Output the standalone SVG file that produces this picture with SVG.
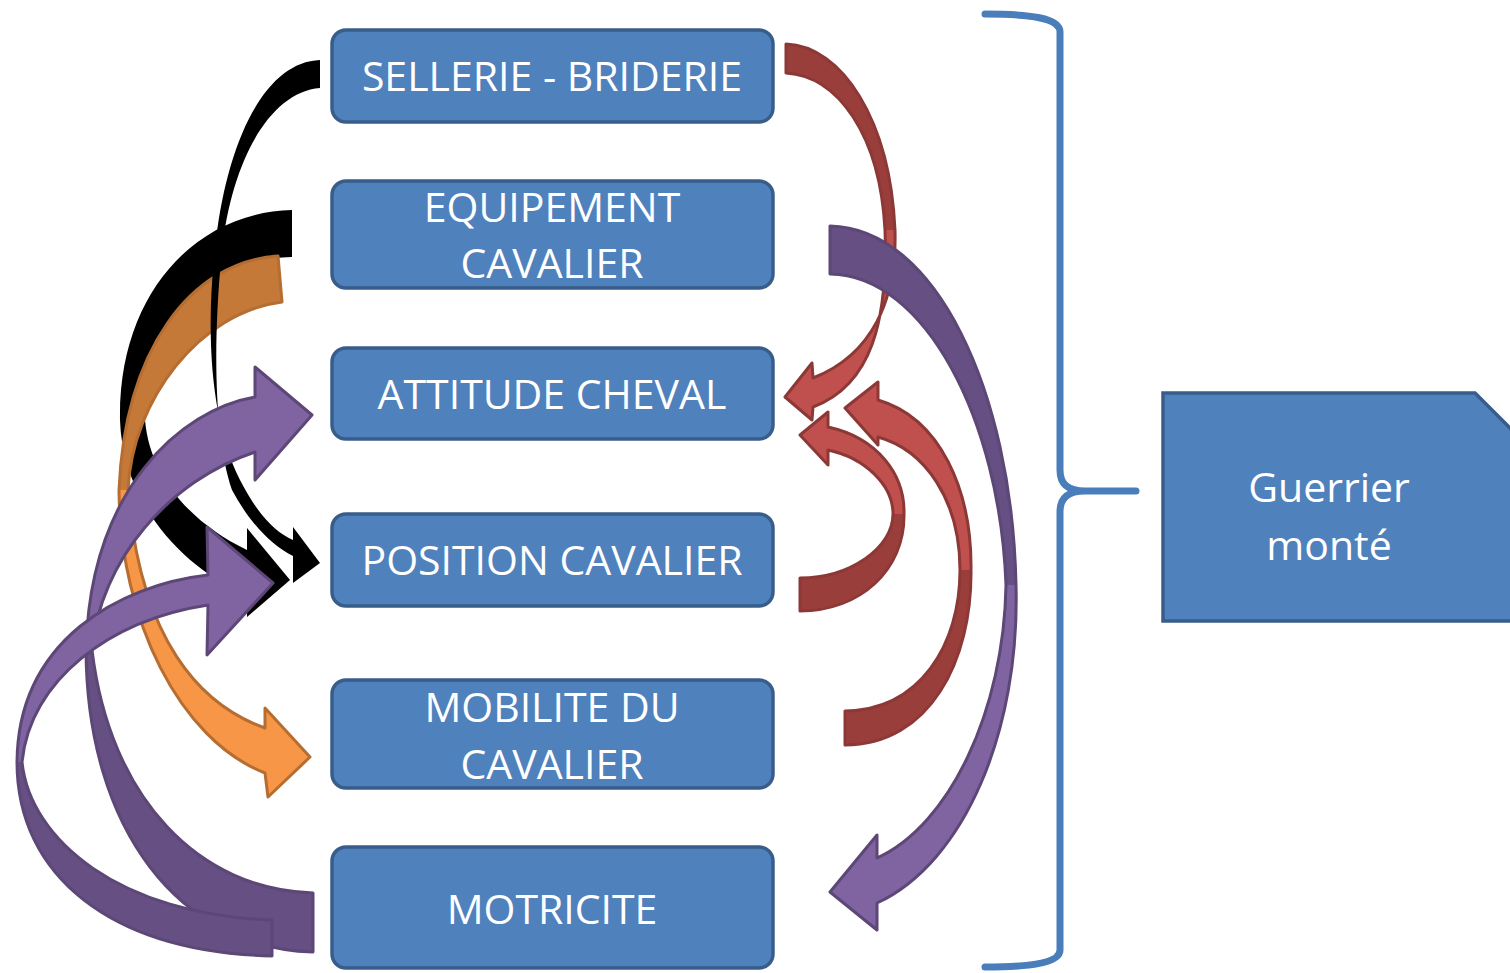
<svg xmlns="http://www.w3.org/2000/svg" xmlns:xlink="http://www.w3.org/1999/xlink" width="1510" height="973" viewBox="0 0 1510 973">
<style>
.node{fill:#4F81BD;stroke:#385D8A;stroke-width:3.5}
.lbl{font-family:"Open Sans","Liberation Sans",sans-serif;font-size:41px;fill:#FFFFFF;text-anchor:middle}
.bk{fill:#000000}
.ol{fill:#F79646}
.od{fill:#C47938}
.os{fill:none;stroke:#B66D31;stroke-width:3;stroke-linejoin:round}
.pl{fill:#8064A2}
.pd{fill:#664F82}
.ps{fill:none;stroke:#5C4776;stroke-width:3;stroke-linejoin:round}
.rl{fill:#C0504D}
.rd{fill:#9A3E3C}
.rs{fill:none;stroke:#8C3836;stroke-width:3;stroke-linejoin:round}
.brace{fill:none;stroke:#4A7EBB;stroke-width:7;stroke-linecap:round;stroke-linejoin:round}
</style>
<defs>
<path id="a-orange" d="M278,256 C190,262 125,350 119,490 C120,620 180,740 265,773 L268,797 L310,757 L265,708 L265,728 C200,705 140,640 128,490 C132,400 200,312 282,302 Z"/>
<path id="a-p4" d="M313,893 C200,890 110,800 92,650 C100,560 170,480 255,452 L255,480 L312,415 L255,367 L255,397 C180,410 90,490 86,650 C87,830 180,948 313,952 Z"/>
<path id="a-p5" d="M272,920 C120,915 30,840 22,762 C30,680 110,620 208,605 L207,655 L273,583 L207,527 L208,575 C120,585 18,640 17,762 C17,875 110,952 272,956 Z"/>
<path id="a-r6" d="M786,44 C842,46 890,120 895,230 C897,300 872,355 813,378 L812,363 L785,397 L812,420 L813,407 C872,385 888,320 885,230 C880,135 838,76 786,73 Z"/>
<path id="a-p7" d="M830,226 C935,228 1012,390 1016,585 C1020,730 965,862 877,903 L877,930 L830,892 L877,835 L877,858 C950,825 1004,710 1006,585 C1000,420 925,275 830,274 Z"/>
<path id="a-r8" d="M800,578 C850,578 893,548 893,514 C893,485 865,458 828,450 L828,465 L800,435 L828,412 L828,427 C878,438 905,475 904,514 C905,570 860,611 800,611 Z"/>
<path id="a-r9" d="M845,711 C920,710 960,645 960,570 C960,500 925,450 878,437 L878,445 L845,408 L878,382 L878,400 C940,418 972,490 971,570 C972,660 930,745 845,745 Z"/>
</defs>
<rect width="1510" height="973" fill="#FFFFFF"/>

<g id="node-sellerie">
<rect class="node" x="332" y="30" width="441" height="92" rx="14"/>
<text class="lbl" x="552" y="91">SELLERIE - BRIDERIE</text>
</g>
<g id="node-equipement">
<rect class="node" x="332" y="181" width="441" height="107" rx="14"/>
<text class="lbl" x="552" y="222">EQUIPEMENT</text>
<text class="lbl" x="552" y="278">CAVALIER</text>
</g>
<g id="node-attitude">
<rect class="node" x="332" y="348" width="441" height="91" rx="14"/>
<text class="lbl" x="552" y="409">ATTITUDE CHEVAL</text>
</g>
<g id="node-position">
<rect class="node" x="332" y="514" width="441" height="92" rx="14"/>
<text class="lbl" x="552" y="575">POSITION CAVALIER</text>
</g>
<g id="node-mobilite">
<rect class="node" x="332" y="680" width="441" height="108" rx="14"/>
<text class="lbl" x="552" y="722">MOBILITE DU</text>
<text class="lbl" x="552" y="779">CAVALIER</text>
</g>
<g id="node-motricite">
<rect class="node" x="332" y="847" width="441" height="121" rx="14"/>
<text class="lbl" x="552" y="924">MOTRICITE</text>
</g>
<g id="node-guerrier">
<path class="node" d="M1163,393 L1475,393 L1512,430 L1512,621 L1163,621 Z"/>
<text class="lbl" x="1329" y="502">Guerrier</text>
<text class="lbl" x="1329" y="560">monté</text>
</g>

<g id="connectors">
<!-- thick black: EQUIPEMENT -> POSITION -->
<path class="bk" d="M292,210 C195,212 118,295 120,420 C122,495 175,565 247,595 L247,617 L290,580 L247,528 L247,550 C195,525 150,480 145,420 C140,330 200,258 292,257 Z"/>
<!-- orange: EQUIPEMENT -> MOBILITE -->
<g id="arrow-equipement-mobilite">
<use xlink:href="#a-orange" class="ol"/>
<path class="od" d="M278,256 C190,262 125,350 119,490 L128,490 C132,400 200,312 282,302 Z"/>
<use xlink:href="#a-orange" class="os"/>
</g>
<!-- thin black: SELLERIE -> POSITION -->
<path class="bk" d="M320,60 C265,62 228,140 216,240 C205,330 210,420 240,480 C258,515 275,532 293,540 L293,527 L320,563 L293,583 L293,556 C270,545 248,520 232,490 C215,440 212,350 222,250 C232,160 270,92 320,88 Z"/>
<!-- purple: MOTRICITE -> ATTITUDE -->
<g id="arrow-motricite-attitude">
<use xlink:href="#a-p4" class="pl"/>
<path class="pd" d="M313,893 C200,890 110,800 92,650 L86,650 C87,830 180,948 313,952 Z"/>
<use xlink:href="#a-p4" class="ps"/>
</g>
<!-- purple: MOTRICITE -> POSITION -->
<g id="arrow-motricite-position">
<use xlink:href="#a-p5" class="pl"/>
<path class="pd" d="M272,920 C120,915 30,840 22,762 L17,762 C17,875 110,952 272,956 Z"/>
<use xlink:href="#a-p5" class="ps"/>
</g>
<!-- red: SELLERIE -> ATTITUDE -->
<g id="arrow-sellerie-attitude">
<use xlink:href="#a-r6" class="rl"/>
<path class="rd" d="M786,44 C842,46 890,120 895,230 L885,230 C880,135 838,76 786,73 Z"/>
<use xlink:href="#a-r6" class="rs"/>
</g>
<!-- purple: EQUIPEMENT -> MOTRICITE -->
<g id="arrow-equipement-motricite">
<use xlink:href="#a-p7" class="pl"/>
<path class="pd" d="M830,226 C935,228 1012,390 1016,585 L1006,585 C1000,420 925,275 830,274 Z"/>
<use xlink:href="#a-p7" class="ps"/>
</g>
<!-- red: POSITION -> ATTITUDE -->
<g id="arrow-position-attitude">
<use xlink:href="#a-r8" class="rl"/>
<path class="rd" d="M800,578 C850,578 893,548 893,514 L904,514 C905,570 860,611 800,611 Z"/>
<use xlink:href="#a-r8" class="rs"/>
</g>
<!-- red: MOBILITE -> ATTITUDE -->
<g id="arrow-mobilite-attitude">
<use xlink:href="#a-r9" class="rl"/>
<path class="rd" d="M845,711 C920,710 960,645 960,570 L971,570 C972,660 930,745 845,745 Z"/>
<use xlink:href="#a-r9" class="rs"/>
</g>
</g>

<g id="brace">
<path class="brace" d="M985,14 C1030,14 1060,18 1060,32 L1060,470 C1060,484 1068,491 1085,491 L1136,491 M1085,491 C1068,491 1060,498 1060,512 L1060,950 C1060,963 1030,967 985,967"/>
</g>
</svg>
